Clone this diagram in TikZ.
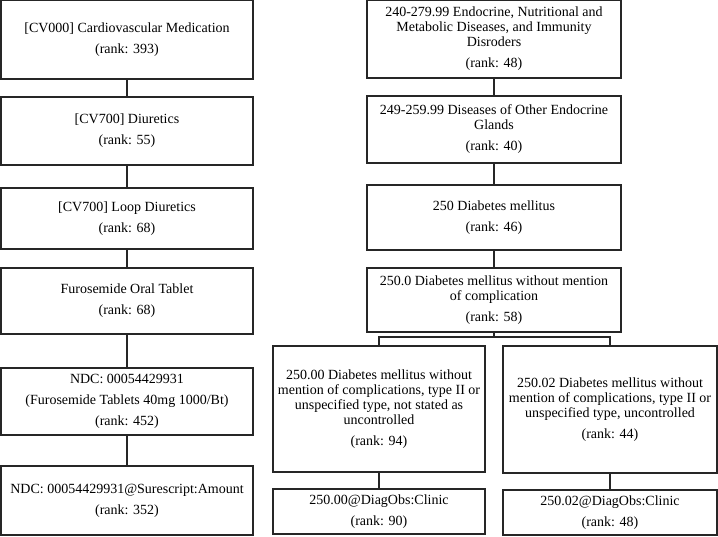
\documentclass[tikz,border=0pt]{standalone}
\usepackage{fontspec}
\setmainfont{Liberation Serif}

\begin{document}
\begin{tikzpicture}[
	x=1pt,
	y=-1pt,
	conceptbox/.style={
		rectangle,
		draw=black!85,
		line width=1.2pt,
		align=center,
		inner sep=0pt,
		font=\fontsize{14}{15}\selectfont
	},
	treeline/.style={
		draw=black!85,
		line width=1.2pt
	}
]

\useasboundingbox (0,0) rectangle (718,536);

\def\leftx{127}
\def\leftwidth{252}
\def\rightx{494}
\def\rightwidth{254}
\def\rankgap{6pt} % gap above the rank line

% medication hierarchy (left)
\node (med1) [conceptbox, minimum width=\leftwidth, minimum height=79] at (\leftx,39.5)
	{[CV000] Cardiovascular Medication\\[\rankgap](rank: 393)};
\node (med2) [conceptbox, minimum width=\leftwidth, minimum height=68] at (\leftx,131)
	{[CV700] Diuretics\\[\rankgap](rank: 55)};
\node (med3) [conceptbox, minimum width=\leftwidth, minimum height=61] at (\leftx,218.5)
	{[CV700] Loop Diuretics\\[\rankgap](rank: 68)};
\node (med4) [conceptbox, minimum width=\leftwidth, minimum height=66] at (\leftx,301)
	{Furosemide Oral Tablet\\[\rankgap](rank: 68)};
\node (med5) [conceptbox, minimum width=\leftwidth, minimum height=67] at (\leftx,401.5)
	{NDC: 00054429931\\[\rankgap](Furosemide Tablets 40mg 1000/Bt)\\[\rankgap](rank: 452)};
\node (med6) [conceptbox, minimum width=\leftwidth, minimum height=69] at (\leftx,500.5)
	{NDC: 00054429931@Surescript:Amount\\[\rankgap](rank: 352)};

% diagnosis hierarchy (right)
\node (diag1) [conceptbox, minimum width=\rightwidth, minimum height=78] at (\rightx,39)
	{240-279.99 Endocrine, Nutritional and\\Metabolic Diseases, and Immunity\\Disroders\\[\rankgap](rank: 48)};
\node (diag2) [conceptbox, minimum width=\rightwidth, minimum height=67] at (\rightx,129.5)
	{249-259.99 Diseases of Other Endocrine\\Glands\\[\rankgap](rank: 40)};
\node (diag3) [conceptbox, minimum width=\rightwidth, minimum height=65] at (\rightx,217.5)
	{250 Diabetes mellitus\\[\rankgap](rank: 46)};
\node (diag4) [conceptbox, minimum width=\rightwidth, minimum height=64] at (\rightx,300)
	{250.0 Diabetes mellitus without mention\\of complication\\[\rankgap](rank: 58)};

\node (diag5) [conceptbox, minimum width=212, minimum height=126] at (379,409)
	{250.00 Diabetes mellitus without\\mention of complications, type II or\\unspecified type, not stated as\\uncontrolled\\[\rankgap](rank: 94)};
\node (diag6) [conceptbox, minimum width=214, minimum height=127] at (610,409.5)
	{250.02 Diabetes mellitus without\\mention of complications, type II or\\unspecified type, uncontrolled\\[\rankgap](rank: 44)};
\node (obs5) [conceptbox, minimum width=212, minimum height=45] at (379,511.5)
	{250.00@DiagObs:Clinic\\[\rankgap](rank: 90)};
\node (obs6) [conceptbox, minimum width=214, minimum height=45] at (610,512.5)
	{250.02@DiagObs:Clinic\\[\rankgap](rank: 48)};

\foreach \upper/\lower in {med1/med2, med2/med3, med3/med4, med4/med5, med5/med6,
	diag1/diag2, diag2/diag3, diag3/diag4, diag5/obs5, diag6/obs6} {
	\draw [treeline] (\upper) -- (\lower);
}

% split below 250.0
\coordinate (split) at (\rightx,337);
\draw [treeline] (diag4) -- (split);
\draw [treeline] (diag5.north) |- (split) -| (diag6.north);

\end{tikzpicture}
\end{document}
